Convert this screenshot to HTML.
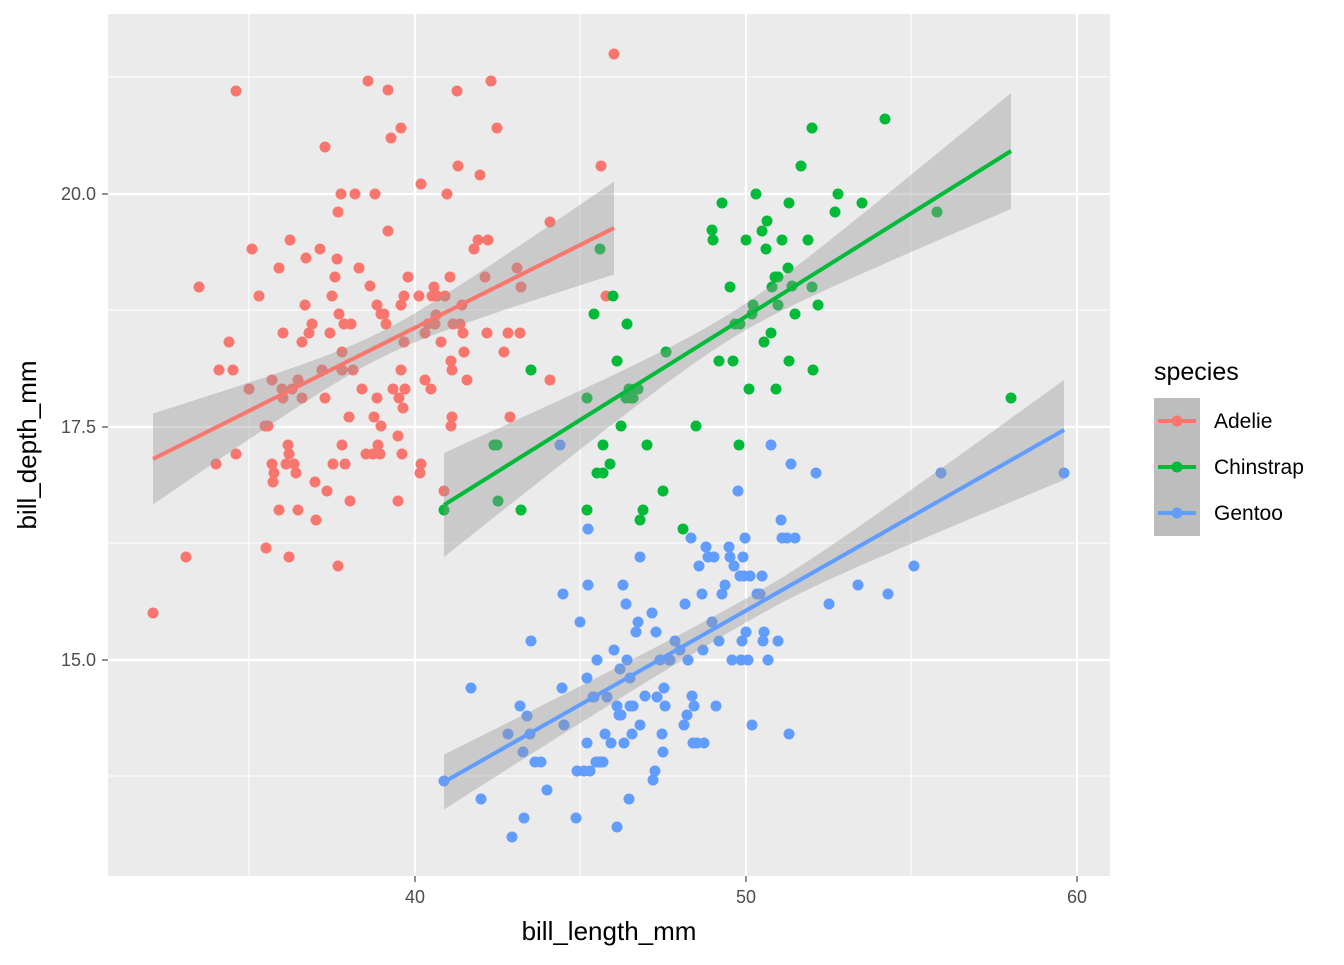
<!DOCTYPE html>
<html><head><meta charset="utf-8"><style>html,body{margin:0;padding:0;background:#fff}</style></head>
<body>
<svg id="s" width="1344" height="960" xmlns="http://www.w3.org/2000/svg" font-family="Liberation Sans, Arial, sans-serif">
<rect x="108" y="14" width="1002" height="862" fill="#ebebeb"/>
<g stroke="#fff" stroke-width="1.1">
<line x1="249" y1="14" x2="249" y2="876"/><line x1="580" y1="14" x2="580" y2="876"/><line x1="911" y1="14" x2="911" y2="876"/>
<line x1="108" y1="77" x2="1110" y2="77"/><line x1="108" y1="310" x2="1110" y2="310"/><line x1="108" y1="543" x2="1110" y2="543"/><line x1="108" y1="776" x2="1110" y2="776"/>
</g>
<g stroke="#fff" stroke-width="2.2">
<line x1="415" y1="14" x2="415" y2="876"/><line x1="746" y1="14" x2="746" y2="876"/><line x1="1077" y1="14" x2="1077" y2="876"/>
<line x1="108" y1="194" x2="1110" y2="194"/><line x1="108" y1="427" x2="1110" y2="427"/><line x1="108" y1="660" x2="1110" y2="660"/>
</g>
<g id="pts"></g>
<g id="fits"></g>
<g fill="#4d4d4d" font-size="18">
<text x="415" y="903" text-anchor="middle">40</text><text x="746" y="903" text-anchor="middle">50</text><text x="1077" y="903" text-anchor="middle">60</text>
<text x="96" y="200" text-anchor="end">20.0</text><text x="96" y="433" text-anchor="end">17.5</text><text x="96" y="666" text-anchor="end">15.0</text>
</g>
<g stroke="#333" stroke-width="1.1">
<line x1="415" y1="876" x2="415" y2="882"/><line x1="746" y1="876" x2="746" y2="882"/><line x1="1077" y1="876" x2="1077" y2="882"/>
<line x1="102" y1="194" x2="108" y2="194"/><line x1="102" y1="427" x2="108" y2="427"/><line x1="102" y1="660" x2="108" y2="660"/>
</g>
<text x="609" y="940" font-size="26" text-anchor="middle" fill="#000">bill_length_mm</text>
<text transform="translate(36,445) rotate(-90)" font-size="26" text-anchor="middle" fill="#000">bill_depth_mm</text>
<text x="1154" y="380" font-size="25" fill="#000">species</text>
<g id="leg"></g>
<g font-size="21" fill="#000"><text x="1214" y="428">Adelie</text><text x="1214" y="474">Chinstrap</text><text x="1214" y="520">Gentoo</text></g>
</svg>
<script>
var A=[[153,613],[186,557],[199,287],[216,464],[219,370],[229,342],[233,370],[236,91],[236,454],[249,389],[252,249],[259,296],[265,426],[266,548],[268,426],[272,380],[272,464],[273,482],[274,473],[279,510],[279,268],[282,389],[283,333],[283,398],[286,464],[288,445],[289,557],[289,454],[290,240],[292,389],[294,464],[296,473],[298,510],[298,380],[302,342],[302,398],[305,305],[306,258],[309,333],[312,324],[315,482],[316,520],[320,249],[322,370],[325,398],[325,147],[327,491],[330,333],[332,296],[333,464],[335,277],[337,259],[338,566],[338,212],[339,314],[341,194],[342,370],[342,352],[342,445],[344,324],[345,464],[349,417],[350,501],[351,324],[353,370],[355,194],[359,268],[362,389],[366,454],[368,81],[370,286],[373,454],[374,417],[375,194],[377,398],[377,305],[378,445],[380,454],[381,426],[381,314],[384,314],[386,324],[388,231],[388,90],[391,138],[393,389],[398,436],[398,501],[399,398],[401,370],[401,305],[401,128],[402,454],[403,408],[404,296],[404,342],[405,389],[408,277],[419,296],[420,473],[421,464],[421,184],[425,380],[425,333],[428,324],[431,389],[432,296],[434,287],[435,324],[436,315],[437,296],[441,342],[444,491],[445,296],[447,194],[450,277],[451,426],[451,361],[452,370],[452,417],[453,324],[457,91],[458,166],[460,324],[462,305],[463,333],[464,352],[467,380],[474,249],[478,240],[480,175],[485,277],[487,333],[488,240],[491,81],[497,128],[504,352],[508,333],[510,417],[517,268],[520,333],[521,287],[550,222],[550,380],[601,166],[606,296],[614,54]];
var C=[[444,510],[494,445],[497,445],[498,501],[521,510],[531,370],[587,398],[587,510],[594,314],[597,473],[600,249],[603,445],[603,473],[610,464],[613,296],[617,361],[621,426],[626,398],[627,324],[629,389],[631,398],[633,398],[635,389],[638,389],[640,520],[643,510],[647,445],[663,491],[666,352],[683,529],[696,426],[712,230],[713,240],[719,361],[722,203],[730,287],[733,361],[735,324],[739,445],[740,324],[746,240],[749,389],[752,314],[753,305],[756,194],[762,231],[764,342],[766,249],[767,221],[771,333],[772,287],[775,277],[776,389],[778,305],[778,277],[782,240],[788,268],[789,203],[789,361],[792,286],[795,314],[801,166],[808,240],[812,128],[812,287],[813,370],[818,305],[835,212],[838,194],[862,203],[885,119],[937,212],[1011,398]];
var G=[[444,781],[471,688],[481,799],[508,734],[512,837],[520,706],[523,752],[524,818],[527,716],[530,734],[531,641],[535,762],[541,762],[547,790],[560,445],[562,688],[563,594],[564,725],[576,818],[577,771],[580,622],[584,771],[587,743],[587,678],[588,529],[588,585],[590,771],[593,697],[594,697],[596,762],[597,660],[599,762],[601,762],[603,762],[605,734],[607,697],[611,743],[614,650],[617,827],[617,706],[619,715],[620,669],[621,715],[623,585],[624,743],[626,604],[627,660],[629,799],[630,678],[630,706],[632,734],[633,706],[636,632],[638,622],[640,557],[640,725],[645,696],[652,613],[653,780],[655,771],[656,632],[657,697],[660,660],[662,734],[663,752],[664,688],[665,706],[669,660],[670,660],[675,641],[680,650],[684,725],[685,604],[687,715],[688,660],[691,538],[692,696],[693,743],[694,706],[697,743],[699,566],[702,594],[703,650],[704,743],[706,547],[708,557],[712,622],[714,557],[716,706],[719,641],[722,594],[725,585],[729,547],[730,557],[732,660],[734,566],[738,491],[740,576],[741,660],[742,641],[743,557],[744,576],[745,538],[746,632],[748,660],[750,576],[752,725],[757,594],[760,594],[762,576],[763,641],[764,632],[768,660],[771,445],[778,641],[781,520],[782,538],[787,538],[789,734],[791,464],[795,538],[816,473],[829,604],[858,585],[888,594],[914,566],[941,473],[1064,473]];
var NS="http://www.w3.org/2000/svg";
function el(t,a,p){var e=document.createElementNS(NS,t);for(var k in a)e.setAttribute(k,a[k]);document.getElementById(p).appendChild(e);return e;}
[[A,"#F8766D"],[C,"#00BA38"],[G,"#619CFF"]].forEach(function(s){s[0].forEach(function(p){el("circle",{cx:p[0],cy:p[1],r:5.5,fill:s[1]},"pts");});});
function fit(x0,y0,x1,y1,m,wm,wl,wr,col){
 var bl=(wl*wl-wm*wm)/((m-x0)*(m-x0)),br=(wr*wr-wm*wm)/((x1-m)*(x1-m));
 var up=[],lo=[];
 for(var i=0;i<=60;i++){var x=x0+(x1-x0)*i/60,y=y0+(y1-y0)*(x-x0)/(x1-x0),b=x<m?bl:br,w=Math.sqrt(wm*wm+b*(x-m)*(x-m));up.push(x.toFixed(1)+","+(y-w).toFixed(1));lo.unshift(x.toFixed(1)+","+(y+w).toFixed(1));}
 el("polygon",{points:up.concat(lo).join(" "),fill:"#999","fill-opacity":0.4},"fits");
 el("line",{x1:x0,y1:y0,x2:x1,y2:y1,stroke:col,"stroke-width":4},"fits");
}
fit(153,459,614,228,380,13,45.5,46.5,"#F8766D");
fit(444,505,1011,151,730,13,52,58,"#00BA38");
fit(444,782,1064,430,760,12,27.5,50,"#619CFF");
[["#F8766D",421],["#00BA38",467],["#619CFF",513]].forEach(function(s){
 el("rect",{x:1154,y:s[1]-23,width:46,height:46,fill:"#bdbdbd"},"leg");
 el("line",{x1:1158,y1:s[1],x2:1196,y2:s[1],stroke:s[0],"stroke-width":4},"leg");
 el("circle",{cx:1177,cy:s[1],r:5.5,fill:s[0]},"leg");
});
</script>
</body></html>
